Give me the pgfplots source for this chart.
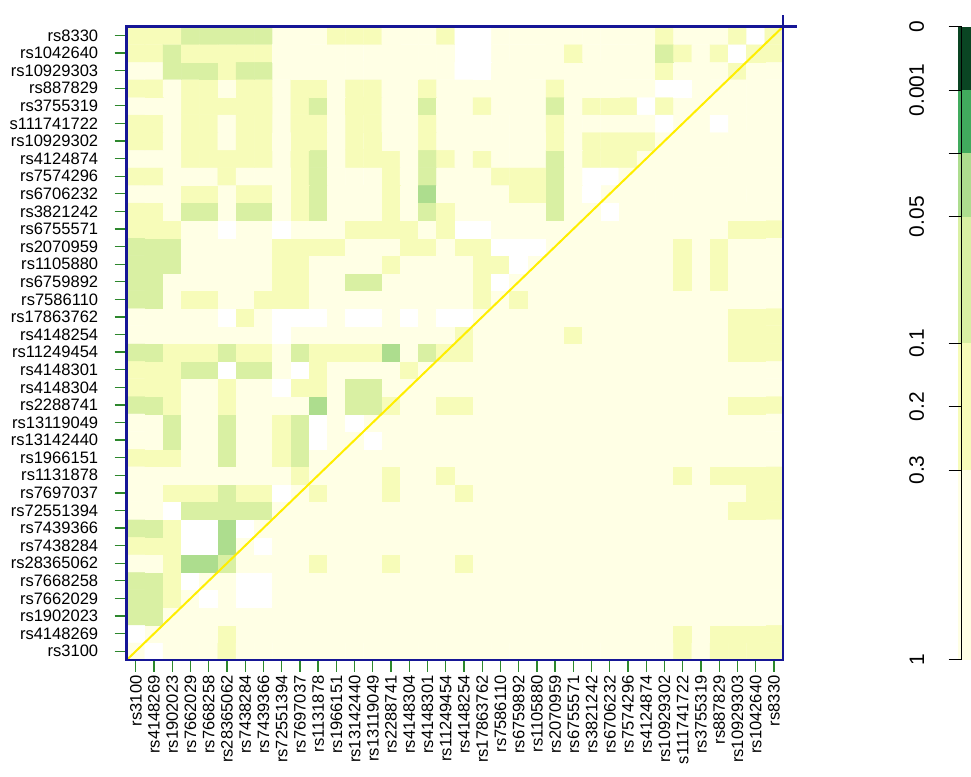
\documentclass[border=0pt]{standalone}
\usepackage{fontspec}
\setmainfont{Liberation Sans}
\usepackage{graphicx}
\usepackage{pgfplots}
\pgfplotsset{compat=1.18}
\definecolor{framecol}{RGB}{22,22,150}
\definecolor{tickgreen}{RGB}{45,135,45}
\definecolor{diagcol}{RGB}{255,238,0}
\definecolor{cbA}{RGB}{10,69,35}
\definecolor{cbB}{RGB}{65,171,93}
\definecolor{cbC}{RGB}{173,221,142}
\definecolor{cbD}{RGB}{217,240,163}
\definecolor{cbE}{RGB}{247,252,185}
\definecolor{cbF}{RGB}{255,255,229}
\begin{document}
\begin{tikzpicture}[x=1bp,y=1bp]
\useasboundingbox (0,0) rectangle (971,777);
\begin{axis}[
  name=main,
  at={(126.7bp,117bp)}, anchor=south west,
  width=656.3bp, height=633.3bp, scale only axis,
  xmin=-0.5, xmax=35.5, ymin=-0.5, ymax=35.5,
  enlargelimits=false,
  axis on top,
  axis line style={draw=framecol, line width=2.6bp},
  tick align=outside, xtick pos=bottom, ytick pos=left,
  xtick={0,...,35}, ytick={0,...,35},
  xticklabels={rs3100,rs4148269,rs1902023,rs7662029,rs7668258,rs28365062,rs7438284,rs7439366,rs72551394,rs7697037,rs1131878,rs1966151,rs13142440,rs13119049,rs2288741,rs4148304,rs4148301,rs11249454,rs4148254,rs17863762,rs7586110,rs6759892,rs1105880,rs2070959,rs6755571,rs3821242,rs6706232,rs7574296,rs4124874,rs10929302,s111741722,rs3755319,rs887829,rs10929303,rs1042640,rs8330},
  yticklabels={rs3100,rs4148269,rs1902023,rs7662029,rs7668258,rs28365062,rs7438284,rs7439366,rs72551394,rs7697037,rs1131878,rs1966151,rs13142440,rs13119049,rs2288741,rs4148304,rs4148301,rs11249454,rs4148254,rs17863762,rs7586110,rs6759892,rs1105880,rs2070959,rs6755571,rs3821242,rs6706232,rs7574296,rs4124874,rs10929302,s111741722,rs3755319,rs887829,rs10929303,rs1042640,rs8330},
  major tick length=12bp,
  major tick style={draw=tickgreen, line width=1.3bp},
  ticklabel style={font=\fontsize{16.6}{19}\selectfont, text=black},
  xticklabel style={rotate=90, anchor=east},
  yticklabel style={anchor=east, xshift=-13bp},
  colormap={ld}{rgb255=(255,255,255) rgb255=(255,255,229) rgb255=(247,252,185) rgb255=(217,240,163) rgb255=(173,221,142)},
  colormap access=direct,
]
\addplot[matrix plot*, mesh/cols=36, point meta=explicit] table[row sep=\\, header=false, x expr={\coordindex-36*floor((\coordindex+0.5)/36)}, y expr={floor((\coordindex+0.5)/36)}, meta index=0] {
1\\0\\1\\1\\1\\2\\ 1\\1\\1\\1\\1\\1\\ 1\\1\\1\\1\\1\\1\\ 1\\1\\1\\1\\1\\1\\ 1\\1\\1\\1\\1\\1\\ 2\\1\\2\\2\\2\\2\\
0\\1\\1\\1\\1\\2\\ 1\\1\\1\\1\\1\\1\\ 1\\1\\1\\1\\1\\1\\ 1\\1\\1\\1\\1\\1\\ 1\\1\\1\\1\\1\\1\\ 2\\1\\2\\2\\2\\2\\
3\\3\\1\\1\\1\\1\\ 1\\1\\1\\1\\1\\1\\ 1\\1\\1\\1\\1\\1\\ 1\\1\\1\\1\\1\\1\\ 1\\1\\1\\1\\1\\1\\ 1\\1\\1\\1\\1\\1\\
3\\3\\2\\1\\0\\1\\ 0\\0\\1\\1\\1\\1\\ 1\\1\\1\\1\\1\\1\\ 1\\1\\1\\1\\1\\1\\ 1\\1\\1\\1\\1\\1\\ 1\\1\\1\\1\\1\\1\\
3\\3\\2\\0\\1\\1\\ 0\\0\\1\\1\\1\\1\\ 1\\1\\1\\1\\1\\1\\ 1\\1\\1\\1\\1\\1\\ 1\\1\\1\\1\\1\\1\\ 1\\1\\1\\1\\1\\1\\
1\\1\\2\\4\\4\\3\\ 1\\1\\1\\1\\2\\1\\ 1\\1\\2\\1\\1\\1\\ 2\\1\\1\\1\\1\\1\\ 1\\1\\1\\1\\1\\1\\ 1\\1\\1\\1\\1\\1\\
2\\2\\2\\0\\0\\4\\ 1\\0\\1\\1\\1\\1\\ 1\\1\\1\\1\\1\\1\\ 1\\1\\1\\1\\1\\1\\ 1\\1\\1\\1\\1\\1\\ 1\\1\\1\\1\\1\\1\\
3\\3\\2\\0\\0\\4\\ 0\\1\\1\\1\\1\\1\\ 1\\1\\1\\1\\1\\1\\ 1\\1\\1\\1\\1\\1\\ 1\\1\\1\\1\\1\\1\\ 1\\1\\1\\1\\1\\1\\
1\\1\\0\\3\\3\\3\\ 3\\3\\1\\1\\1\\1\\ 1\\1\\1\\1\\1\\1\\ 1\\1\\1\\1\\1\\1\\ 1\\1\\1\\1\\1\\1\\ 1\\1\\1\\2\\2\\2\\
1\\1\\2\\2\\2\\3\\ 2\\2\\0\\1\\2\\1\\ 1\\1\\2\\1\\1\\1\\ 2\\1\\1\\1\\1\\1\\ 1\\1\\1\\1\\1\\1\\ 1\\1\\1\\1\\2\\2\\
1\\1\\1\\1\\1\\1\\ 1\\1\\1\\2\\1\\1\\ 1\\1\\2\\1\\1\\2\\ 1\\1\\1\\1\\1\\1\\ 1\\1\\1\\1\\1\\1\\ 2\\1\\2\\2\\2\\2\\
2\\2\\2\\1\\1\\3\\ 1\\1\\2\\3\\1\\1\\ 1\\1\\1\\1\\1\\1\\ 1\\1\\1\\1\\1\\1\\ 1\\1\\1\\1\\1\\1\\ 1\\1\\1\\1\\1\\1\\
1\\1\\3\\1\\1\\3\\ 1\\1\\2\\3\\0\\1\\ 1\\0\\1\\1\\1\\1\\ 1\\1\\1\\1\\1\\1\\ 1\\1\\1\\1\\1\\1\\ 1\\1\\1\\1\\1\\1\\
1\\1\\3\\1\\1\\3\\ 1\\1\\2\\3\\0\\1\\ 0\\1\\1\\1\\1\\1\\ 1\\1\\1\\1\\1\\1\\ 1\\1\\1\\1\\1\\1\\ 1\\1\\1\\1\\1\\1\\
3\\3\\2\\1\\1\\2\\ 1\\1\\1\\1\\4\\1\\ 3\\3\\2\\1\\1\\2\\ 2\\1\\1\\1\\1\\1\\ 1\\1\\1\\1\\1\\1\\ 1\\1\\1\\2\\2\\2\\
2\\2\\2\\1\\1\\2\\ 1\\1\\0\\2\\2\\1\\ 3\\3\\1\\1\\1\\1\\ 1\\1\\1\\1\\1\\1\\ 1\\1\\1\\1\\1\\1\\ 1\\1\\1\\1\\1\\1\\
2\\2\\2\\3\\3\\0\\ 3\\3\\1\\0\\2\\1\\ 1\\1\\1\\2\\1\\1\\ 1\\1\\1\\1\\1\\1\\ 1\\1\\1\\1\\1\\1\\ 1\\1\\1\\1\\1\\1\\
3\\3\\2\\2\\2\\3\\ 2\\2\\1\\3\\2\\2\\ 2\\2\\4\\1\\3\\2\\ 2\\1\\1\\1\\1\\1\\ 1\\1\\1\\1\\1\\1\\ 1\\1\\1\\2\\2\\2\\
1\\1\\1\\1\\1\\1\\ 1\\1\\0\\1\\1\\1\\ 1\\1\\1\\1\\1\\1\\ 2\\1\\1\\1\\1\\1\\ 2\\1\\1\\1\\1\\1\\ 1\\1\\1\\2\\2\\2\\
1\\1\\1\\1\\1\\0\\ 2\\1\\0\\0\\0\\1\\ 0\\0\\1\\0\\1\\0\\ 0\\1\\1\\1\\1\\1\\ 1\\1\\1\\1\\1\\1\\ 1\\1\\1\\2\\2\\2\\
3\\3\\1\\2\\2\\1\\ 1\\2\\2\\2\\1\\1\\ 1\\1\\1\\1\\1\\1\\ 1\\2\\1\\2\\1\\1\\ 1\\1\\1\\1\\1\\1\\ 1\\1\\1\\1\\1\\1\\
3\\3\\1\\1\\1\\1\\ 1\\1\\2\\2\\1\\1\\ 3\\3\\1\\1\\1\\1\\ 1\\2\\0\\1\\1\\1\\ 1\\1\\1\\1\\1\\1\\ 2\\1\\2\\1\\1\\1\\
3\\3\\3\\1\\1\\1\\ 1\\1\\2\\2\\1\\1\\ 1\\1\\2\\1\\1\\1\\ 1\\2\\2\\0\\1\\1\\ 1\\1\\1\\1\\1\\1\\ 2\\1\\2\\1\\1\\1\\
3\\3\\3\\1\\1\\1\\ 1\\1\\2\\2\\2\\2\\ 1\\1\\1\\2\\2\\1\\ 2\\2\\0\\0\\0\\1\\ 1\\1\\1\\1\\1\\1\\ 2\\1\\2\\1\\1\\1\\
2\\2\\2\\1\\1\\0\\ 1\\1\\0\\1\\1\\1\\ 2\\2\\2\\2\\1\\2\\ 0\\0\\1\\1\\1\\1\\ 1\\1\\1\\1\\1\\1\\ 1\\1\\1\\2\\2\\2\\
2\\2\\1\\3\\3\\1\\ 3\\3\\1\\2\\3\\1\\ 1\\1\\2\\1\\3\\2\\ 1\\1\\1\\1\\1\\3\\ 1\\1\\0\\1\\1\\1\\ 1\\1\\1\\1\\1\\1\\
1\\1\\1\\2\\2\\1\\ 2\\2\\1\\2\\3\\1\\ 1\\1\\2\\1\\4\\1\\ 1\\1\\1\\2\\2\\3\\ 1\\0\\1\\1\\1\\1\\ 1\\1\\1\\1\\1\\1\\
2\\2\\1\\1\\1\\2\\ 1\\1\\1\\2\\3\\1\\ 1\\1\\2\\1\\3\\1\\ 1\\1\\2\\2\\2\\3\\ 1\\0\\0\\1\\1\\1\\ 1\\1\\1\\1\\1\\1\\
1\\1\\1\\2\\2\\2\\ 2\\2\\1\\2\\3\\1\\ 2\\2\\2\\1\\3\\2\\ 1\\2\\1\\1\\1\\3\\ 1\\2\\2\\2\\1\\1\\ 1\\1\\1\\1\\1\\1\\
2\\2\\1\\2\\2\\1\\ 2\\2\\1\\2\\2\\1\\ 2\\2\\1\\1\\2\\1\\ 1\\1\\1\\1\\1\\2\\ 1\\2\\2\\2\\2\\1\\ 1\\1\\1\\1\\1\\1\\
2\\2\\1\\2\\2\\1\\ 2\\2\\1\\2\\2\\1\\ 2\\2\\1\\1\\2\\1\\ 1\\1\\1\\1\\1\\2\\ 1\\1\\1\\1\\1\\0\\ 1\\1\\0\\1\\1\\1\\
1\\1\\1\\2\\2\\2\\ 2\\2\\1\\2\\3\\1\\ 2\\2\\1\\1\\3\\1\\ 1\\2\\1\\1\\1\\3\\ 1\\2\\2\\2\\0\\2\\ 1\\1\\1\\1\\1\\1\\
2\\2\\1\\2\\2\\1\\ 2\\2\\1\\2\\2\\1\\ 2\\2\\1\\1\\2\\1\\ 1\\1\\1\\1\\1\\2\\ 1\\1\\1\\1\\1\\0\\ 0\\1\\1\\1\\1\\1\\
1\\1\\3\\3\\3\\2\\ 3\\3\\1\\1\\1\\1\\ 1\\1\\1\\1\\1\\1\\ 0\\0\\1\\1\\1\\1\\ 1\\1\\1\\1\\1\\2\\ 1\\1\\1\\2\\1\\1\\
2\\2\\3\\2\\2\\2\\ 2\\2\\1\\1\\1\\1\\ 1\\1\\1\\1\\1\\1\\ 0\\0\\1\\1\\1\\1\\ 2\\1\\1\\1\\1\\3\\ 2\\1\\2\\0\\2\\2\\
2\\2\\2\\3\\3\\3\\ 3\\3\\1\\1\\1\\2\\ 2\\2\\1\\1\\1\\2\\ 0\\0\\1\\1\\1\\1\\ 1\\1\\1\\1\\1\\2\\ 1\\1\\1\\2\\0\\2\\
};
\addplot[diagcol, line width=2bp] coordinates {(-0.5,-0.5) (35.5,35.5)};
\end{axis}
\draw[framecol, line width=2.6bp] (main.north east) -- ++(14,0);
\draw[framecol, line width=2.6bp] (main.north east) -- ++(0,12);
\begin{axis}[
  at={(961.5bp,117bp)}, anchor=south west,
  width=9.5bp, height=633.3bp, scale only axis,
  xmin=0, xmax=1, ymin=0, ymax=1,
  clip=false, axis on top,
  axis lines*=left,
  x axis line style={draw=none},
  y axis line style={draw=black, line width=1bp},
  xtick=\empty,
  ytick={0,0.3,0.4,0.5,0.7,0.8,0.9,1},
  yticklabels={1,0.3,0.2,0.1,0.05,{},0.001,0},
  tick align=outside, ytick pos=left,
  major tick length=13bp,
  major tick style={draw=black, line width=1bp},
  yticklabel style={font=\fontsize{21}{24}\selectfont, xshift=-21bp, rotate=90, anchor=south},
]
\addplot[fill=cbA, draw=none] coordinates {(-0.42,0.9) (1,0.9) (1,1) (-0.42,1)} -- cycle;
\addplot[fill=cbB, draw=none] coordinates {(-0.42,0.8) (1,0.8) (1,0.9) (-0.42,0.9)} -- cycle;
\addplot[fill=cbC, draw=none] coordinates {(-0.42,0.7) (1,0.7) (1,0.8) (-0.42,0.8)} -- cycle;
\addplot[fill=cbD, draw=none] coordinates {(-0.42,0.5) (1,0.5) (1,0.7) (-0.42,0.7)} -- cycle;
\addplot[fill=cbE, draw=none] coordinates {(-0.42,0.3) (1,0.3) (1,0.5) (-0.42,0.5)} -- cycle;
\addplot[fill=cbF, draw=none] coordinates {(-0.42,0) (1,0) (1,0.3) (-0.42,0.3)} -- cycle;
\end{axis}
\end{tikzpicture}
\end{document}
